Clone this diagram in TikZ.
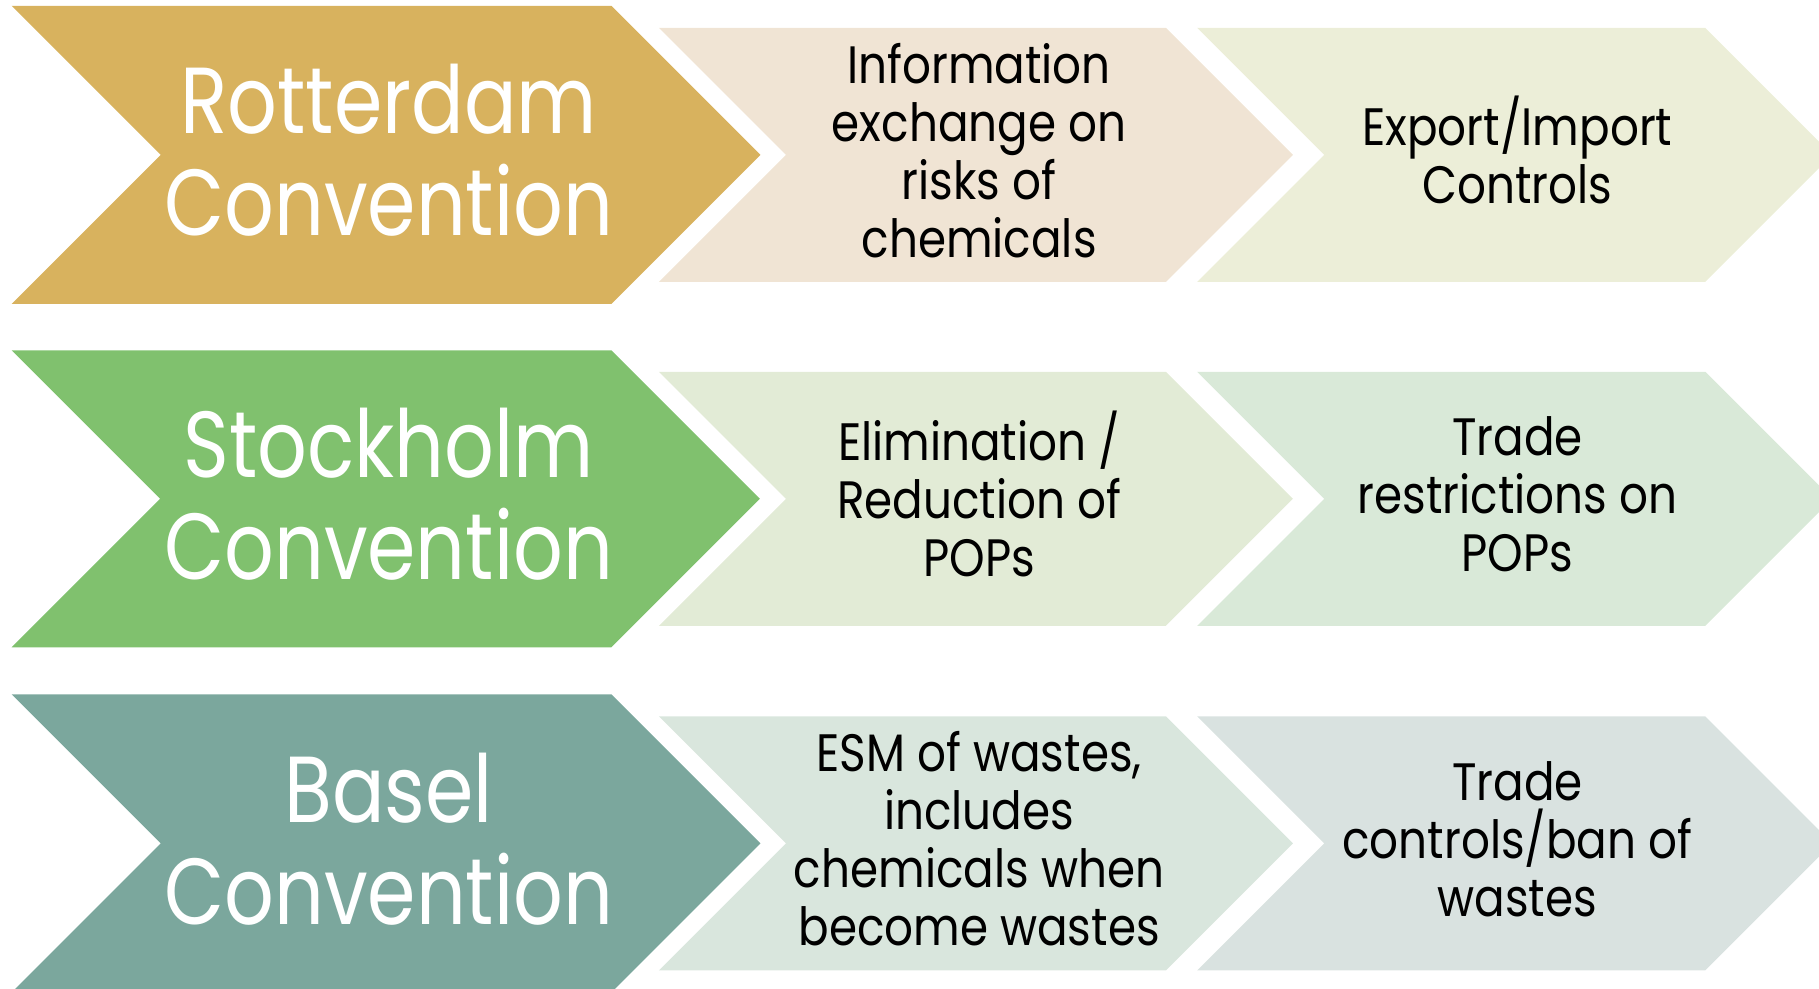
\documentclass[tikz,border=0pt]{standalone}
\usepackage{fontspec}
\setmainfont{Poppins}
\newfontfamily\conventionfont[FakeStretch=0.83]{Poppins}
\newfontfamily\stepfont[FakeStretch=0.86]{Poppins}

\definecolor{rotgold}{HTML}{D8B25E}
\definecolor{stockgreen}{HTML}{80C16E}
\definecolor{baselteal}{HTML}{7BA79D}
\definecolor{rotmid}{HTML}{F0E4D4}
\definecolor{rotend}{HTML}{ECEED8}
\definecolor{stockmid}{HTML}{E2EBD6}
\definecolor{stockend}{HTML}{D9E9D8}
\definecolor{baselmid}{HTML}{D9E6DD}
\definecolor{baselend}{HTML}{D9E2E0}

% chevron: colour, left x, middle y, half height, body length
\newcommand{\chevron}[5]{%
  \fill[#1] (#2,#3-#4) -- ++(#5,0) -- ++(#4,#4) -- ++(-#4,#4)
    -- ++(-#5,0) -- ++(#4,-#4) -- cycle;}

\begin{document}
\begin{tikzpicture}
[x=0.01cm,y=-0.01cm,%
  bigtxt/.style={text=white,align=center,inner sep=0pt,yshift=1.1pt,%
    font=\conventionfont\fontsize{23}{25}\selectfont},%
  smalltxt/.style={text=black,align=center,inner sep=0pt,yshift=1.1pt,%
    font=\stepfont\fontsize{12.9}{14.2}\selectfont}]
\useasboundingbox (0,0) rectangle (1568,852);
% Rotterdam
\chevron{rotgold}{10}{133.5}{128.5}{517}
\chevron{rotmid}{568}{133.5}{109.5}{437}
\chevron{rotend}{1032}{133.5}{109.5}{438}
\node[bigtxt] (rotterdam) at (335,133.5) {Rotterdam\\Convention};
\node[smalltxt] (rotinfo) at (844,133.5) {Information\\exchange on\\risks of\\chemicals};
\node[smalltxt] (rotctrl) at (1308,133.5) {Export/Import\\Controls};
% Stockholm
\chevron{stockgreen}{10}{430}{128}{517}
\chevron{stockmid}{568}{430}{109.5}{437}
\chevron{stockend}{1032}{430}{109.5}{438}
\node[bigtxt] (stockholm) at (335,430) {Stockholm\\Convention};
\node[smalltxt] (stockelim) at (844,430) {Elimination /\\Reduction of\\POPs};
\node[smalltxt] (stocktrade) at (1308,430) {Trade\\restrictions on\\POPs};
% Basel
\chevron{baselteal}{10}{727}{128.5}{517}
\chevron{baselmid}{568}{727}{109.5}{437}
\chevron{baselend}{1032}{727}{109.5}{438}
\node[bigtxt] (basel) at (335,727) {Basel\\Convention};
\node[smalltxt] (baselesm) at (844,727) {ESM of wastes,\\includes\\chemicals when\\become wastes};
\node[smalltxt] (baseltrade) at (1308,727) {Trade\\controls/ban of\\wastes};
\end{tikzpicture}
\end{document}
